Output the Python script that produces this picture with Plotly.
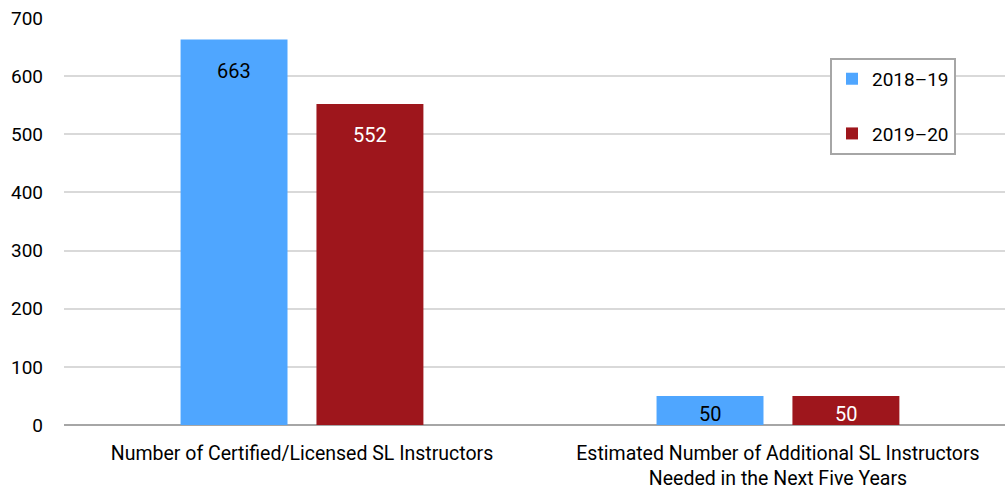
import plotly.graph_objects as go

categories = ["Number of Certified/Licensed SL Instructors",
              "Estimated Number of Additional SL Instructors<br>Needed in the Next Five Years"]
series_names = ["2018\u201319", "2019\u201320"]
values_2018 = [663, 50]
values_2019 = [552, 50]
y_ticks = [0, 100, 200, 300, 400, 500, 600, 700]

FONT = "Roboto, Liberation Sans Narrow, Arial Narrow, sans-serif"
BARGAP = 0.429
BARGROUPGAP = 0.213
colors = ["#4FA6FF", "#9E161C"]
label_colors = ["#000000", "#FFFFFF"]

fig = go.Figure()
for i, (name, vals) in enumerate([(series_names[0], values_2018), (series_names[1], values_2019)]):
    fig.add_trace(go.Bar(
        x=categories, y=vals, name=name, legendgroup=name,
        marker=dict(color=colors[i], line=dict(width=0)),
    ))

# value labels inside bars
slot = (1 - BARGAP) / 2
for i, vals in enumerate([values_2018, values_2019]):
    off = (i - 0.5) * slot
    for j, v in enumerate(vals):
        fig.add_annotation(
            x=j + off, y=v, xref="x", yref="y", text=str(v), showarrow=False,
            yanchor="top", yshift=-17 if v > 100 else -4,
            font=dict(color=label_colors[i], size=20, family=FONT),
        )

fig.update_layout(
    width=1005, height=495,
    margin=dict(l=64, r=0, t=18, b=70),
    plot_bgcolor="white", paper_bgcolor="white",
    barmode="group", bargap=BARGAP, bargroupgap=BARGROUPGAP,
    font=dict(family=FONT, size=19, color="#000000"),
    showlegend=True,
    legend=dict(
        x=0.814, y=0.902, xanchor="left", yanchor="top",
        bordercolor="#A6A6A6", borderwidth=2, bgcolor="white",
        font=dict(size=19, family=FONT),
        traceorder="grouped", tracegroupgap=27,
        itemwidth=30, entrywidth=128, entrywidthmode="pixels",
    ),
    xaxis=dict(showline=False, ticks="", tickfont=dict(size=19.5),
               range=[-0.5, 1.477], automargin=False, ticklabelstandoff=14),
    yaxis=dict(range=[0, 700], tickvals=y_ticks, showgrid=True,
               gridcolor="#D9D9D9", gridwidth=2, zeroline=True,
               zerolinecolor="#A6A6A6", zerolinewidth=2, automargin=False,
               ticks="", ticklabelstandoff=20, tickfont=dict(size=19)),
)

fig.write_html("out.html")
